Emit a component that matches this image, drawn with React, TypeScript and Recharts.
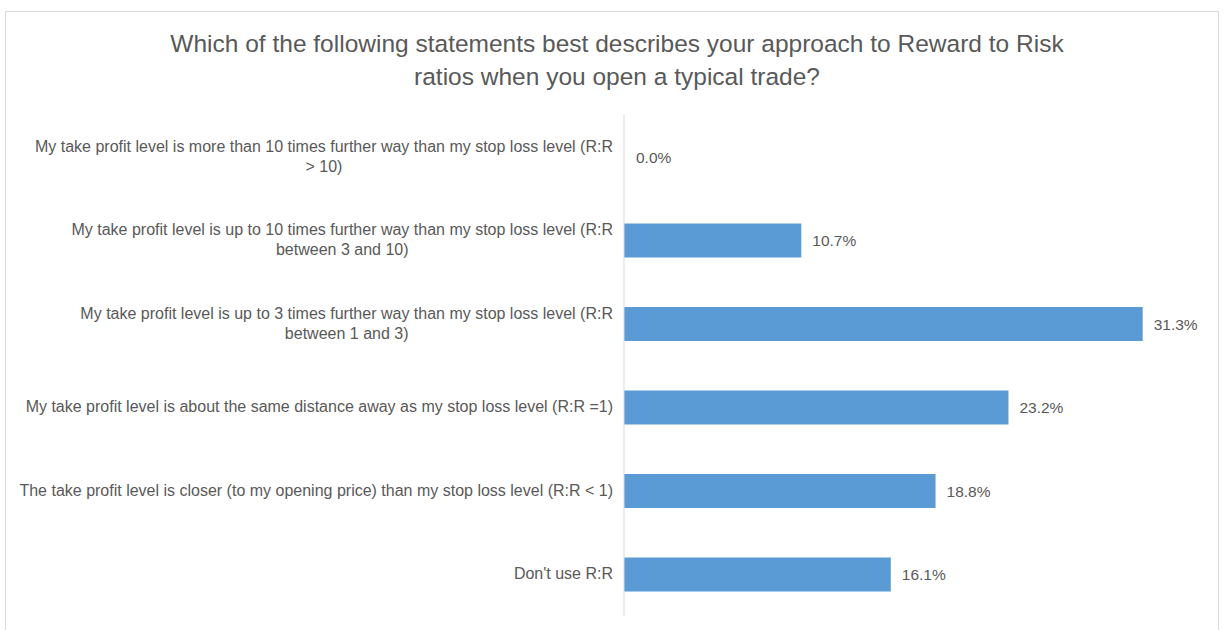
import { BarChart, Bar, XAxis, YAxis, LabelList, Cell } from 'recharts';

const categories = [
  'My take profit level is more than 10 times further way than my stop loss level (R:R\n> 10)',
  'My take profit level is up to 10 times further way than my stop loss level (R:R\nbetween 3 and 10)',
  'My take profit level is up to 3 times further way than my stop loss level (R:R\nbetween 1 and 3)',
  'My take profit level is about the same distance away as my stop loss level (R:R =1)',
  'The take profit level is closer (to my opening price) than my stop loss level (R:R < 1)',
  "Don't use R:R",
];

const shares = [0.0, 10.7, 31.3, 23.2, 18.8, 16.1];

const titleLines = [
  'Which of the following statements best describes your approach to Reward to Risk',
  'ratios when you open a typical trade?',
];

const FONT = '"Liberation Sans", Arial, sans-serif';

const CategoryTick = ({ x, y, payload }: any) => (
  <foreignObject x={x - 620} y={y - 30} width={620} height={60}>
    <div
      style={{
        display: 'flex',
        justifyContent: 'flex-end',
        alignItems: 'center',
        height: '100%',
        fontFamily: FONT,
        fontSize: 16,
        color: '#595959',
      }}
    >
      <div style={{ textAlign: 'center', whiteSpace: 'pre', lineHeight: '20px' }}>{payload.value}</div>
    </div>
  </foreignObject>
);

export default function App() {
  const data = categories.map((name, i) => ({ name, value: shares[i] }));

  return (
    <div style={{ position: 'absolute', left: 0, top: 0, width: 1225, height: 630, background: '#fff' }}>
      <div
        style={{
          position: 'absolute',
          left: 5,
          top: 11,
          width: 1214,
          height: 640,
          border: '1px solid #D9D9D9',
          boxSizing: 'border-box',
        }}
      />
      <div
        style={{
          position: 'absolute',
          left: 0,
          top: 27,
          width: 1234,
          textAlign: 'center',
          fontFamily: FONT,
          fontSize: 24.5,
          lineHeight: '33px',
          color: '#595959',
        }}
      >
        {titleLines.map((t, i) => (
          <div key={i}>{t}</div>
        ))}
      </div>
      <div style={{ position: 'absolute', left: 0, top: 0 }}>
        <BarChart
          width={1225}
          height={630}
          data={data}
          layout="vertical"
          margin={{ top: 115, right: 21, bottom: 14, left: 0 }}
        >
          <XAxis type="number" domain={[0, 35]} hide />
          <YAxis
            type="category"
            dataKey="name"
            width={624}
            axisLine={{ stroke: '#D9D9D9' }}
            tickLine={false}
            tickMargin={5}
            tick={<CategoryTick />}
            interval={0}
          />
          <Bar dataKey="value" fill="#5B9BD5" barSize={34} minPointSize={1} isAnimationActive={false}>
            {data.map((d, i) => (
              <Cell key={i} fill={d.value === 0 ? 'transparent' : '#5B9BD5'} />
            ))}
            <LabelList
              dataKey="value"
              position="right"
              offset={11}
              formatter={(v: any) => `${Number(v).toFixed(1)}%`}
              style={{ fontFamily: FONT, fontSize: 15.5, fill: '#595959' }}
            />
          </Bar>
        </BarChart>
      </div>
    </div>
  );
}
